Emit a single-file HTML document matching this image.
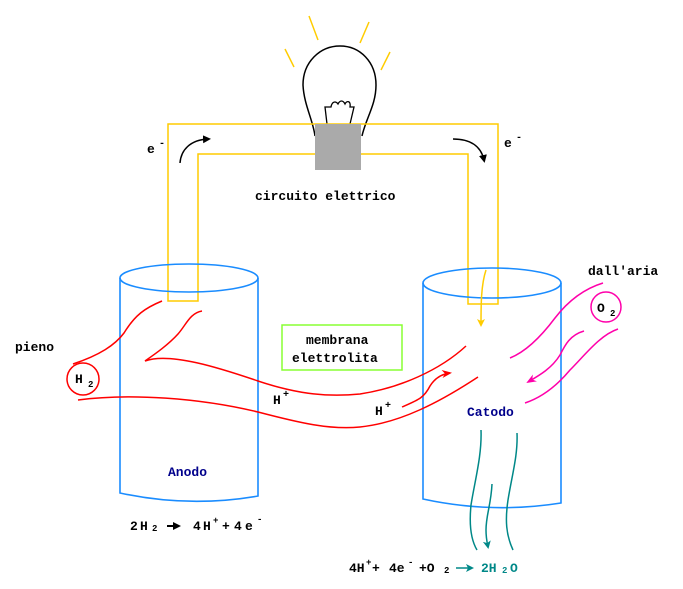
<!DOCTYPE html>
<html><head><meta charset="utf-8"><style>
html,body{margin:0;padding:0;background:#fff;}
svg{display:block;font-family:"Liberation Mono","DejaVu Sans Mono",monospace;font-weight:bold;font-size:13px;}
</style></head><body>
<svg width="683" height="589" viewBox="0 0 683 589" xmlns="http://www.w3.org/2000/svg">
<defs>
<marker id="ab" markerWidth="8" markerHeight="8" refX="5" refY="4" orient="auto" markerUnits="userSpaceOnUse"><path d="M0,0 L8,4 L0,8 z" fill="#000"/></marker>
<marker id="ar" markerWidth="10" markerHeight="8" refX="8" refY="4" orient="auto" markerUnits="userSpaceOnUse"><path d="M0,0 L10,4 L0,8 L3,4 z" fill="#f00"/></marker>
<marker id="am" markerWidth="10" markerHeight="8" refX="8" refY="4" orient="auto" markerUnits="userSpaceOnUse"><path d="M0,0 L10,4 L0,8 L3,4 z" fill="#f0a"/></marker>
<marker id="ay" markerWidth="8" markerHeight="8" refX="6" refY="4" orient="auto" markerUnits="userSpaceOnUse"><path d="M0,0 L8,4 L0,8 L2,4 z" fill="#fc0"/></marker>
<marker id="at" markerWidth="8" markerHeight="8" refX="6" refY="4" orient="auto" markerUnits="userSpaceOnUse"><path d="M0,0 L8,4 L0,8 L2,4 z" fill="#088"/></marker>
</defs>
<g stroke="#fc0" stroke-width="1.5">
<line x1="309" y1="16" x2="318" y2="40"/><line x1="285" y1="49" x2="294" y2="67"/>
<line x1="369" y1="22" x2="360" y2="43"/><line x1="390" y1="52" x2="381" y2="70"/>
</g>
<path d="M315,136 C313,120 304,105 303,85 C303,62 320,46 340,46 C360,46 376,62 376,85 C376,105 366,118 362,136" fill="none" stroke="#000" stroke-width="1.5"/>
<path d="M327,124 L325,107 L331,107 C332,101 336,101 338,104 C340,100 343,100 345,104 C347,100 351,101 350,107 L354,107 L350,124" fill="none" stroke="#000" stroke-width="1.3"/>
<path d="M168,301 L168,124 L498,124 L498,304 L468,304 L468,154 L198,154 L198,301 Z" fill="none" stroke="#fc0" stroke-width="1.5"/>
<rect x="315" y="124" width="46" height="46" fill="#aaa"/>
<path d="M180,163 C181,150 190,140 208,139" fill="none" stroke="#000" stroke-width="1.5" marker-end="url(#ab)"/>
<path d="M453,139 C470,139 481,146 484,160" fill="none" stroke="#000" stroke-width="1.5" marker-end="url(#ab)"/>
<text x="147" y="153">e</text><text x="159" y="146" font-size="10">-</text>
<text x="504" y="147">e</text><text x="516" y="140" font-size="10">-</text>
<text x="255" y="200">circuito elettrico</text>
<g fill="none" stroke="#1a8cff" stroke-width="1.6">
<ellipse cx="189" cy="278" rx="69" ry="14"/>
<path d="M120,278 L120,493 Q189,508 258,496 L258,278"/>
<ellipse cx="492" cy="283" rx="69" ry="15"/>
<path d="M423,283 L423,499 Q492,514 561,503 L561,283"/>
</g>
<rect x="282" y="325" width="120" height="45" fill="none" stroke="#8f3" stroke-width="1.5"/>
<text x="306" y="344">membrana</text>
<text x="292" y="362">elettrolita</text>
<g fill="none" stroke="#f00" stroke-width="1.5">
<path d="M73,364 C100,355 115,345 124,333 C135,315 145,308 162,301"/>
<path d="M202,311 C190,313 186,325 178,334 C168,345 155,354 145,361 C170,352 220,368 258,381 C300,395 330,397 360,394 C400,388 440,370 466,346"/>
<path d="M78,400 C130,393 200,398 258,412 C300,423 330,430 360,427 C400,423 440,402 478,377"/>
<path d="M402,407 C418,400 424,398 430,386 C435,378 442,374 450,373" marker-end="url(#ar)"/>
<circle cx="83" cy="379" r="16"/>
</g>
<text x="75" y="383">H</text><text x="88" y="387" font-size="9">2</text>
<text x="15" y="351">pieno</text>
<text x="273" y="404">H</text><text x="283" y="397" font-size="10">+</text>
<text x="375" y="415">H</text><text x="385" y="408" font-size="10">+</text>
<g fill="none" stroke="#f0a" stroke-width="1.5">
<path d="M603,283 C580,290 565,305 555,318 C540,338 525,352 510,358"/>
<path d="M584,331 C570,335 565,345 560,355 C552,368 540,375 528,382" marker-end="url(#am)"/>
<path d="M618,329 C600,335 585,355 570,370 C555,388 540,398 525,403"/>
<circle cx="606" cy="307" r="15"/>
</g>
<text x="597" y="312">O</text><text x="610" y="316" font-size="9">2</text>
<text x="588" y="275">dall'aria</text>
<path d="M486,270 C481,285 481,305 481,325" fill="none" stroke="#fc0" stroke-width="1.5" marker-end="url(#ay)"/>
<g fill="none" stroke="#088" stroke-width="1.5">
<path d="M481,430 C482,455 475,480 471,505 C469,525 471,540 477,550"/>
<path d="M492,484 C491,505 486,515 486,530 C486,538 487,542 488,547" marker-end="url(#at)"/>
<path d="M517,433 C518,455 512,475 508,500 C505,520 506,535 513,550"/>
</g>
<text x="467" y="416" fill="#00008b">Catodo</text>
<text x="168" y="476" fill="#00008b">Anodo</text>
<text x="130" y="530">2</text><text x="140" y="530">H</text><text x="152" y="531" font-size="9">2</text>
<line x1="167" y1="526" x2="178" y2="526" stroke="#000" stroke-width="2" marker-end="url(#ab)"/>
<text x="193" y="530">4</text><text x="203" y="530">H</text><text x="213" y="523" font-size="9">+</text><text x="222" y="530">+</text><text x="234" y="530">4</text><text x="245" y="530">e</text><text x="257" y="522" font-size="9">-</text>
<text x="349" y="572">4H</text><text x="366" y="565" font-size="9">+</text><text x="372" y="572">+</text><text x="389" y="572">4e</text><text x="408" y="565" font-size="9">-</text><text x="419" y="572">+O</text><text x="444" y="573" font-size="9">2</text>
<line x1="456" y1="568" x2="472" y2="568" stroke="#088" stroke-width="1.5" marker-end="url(#at)"/>
<text x="481" y="572" fill="#088">2H</text><text x="502" y="573" font-size="9" fill="#088">2</text><text x="510" y="572" fill="#088">O</text>
</svg>
</body></html>
